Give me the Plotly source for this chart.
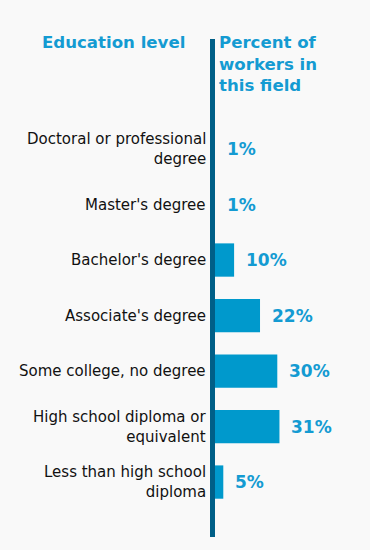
import plotly.graph_objects as go

categories = [
    "Doctoral or professional<br>degree",
    "Master's degree",
    "Bachelor's degree",
    "Associate's degree",
    "Some college, no degree",
    "High school diploma or<br>equivalent",
    "Less than high school<br>diploma",
]
values = [1, 1, 10, 22, 30, 31, 5]
value_labels = ["1%", "1%", "10%", "22%", "30%", "31%", "5%"]

BAR = "#0099cc"
TXT = "#149bd2"
LINE = "#005f87"
BG = "#f9f9f9"
FONT = "DejaVu Sans"

fig = go.Figure()
fig.add_trace(go.Bar(
    x=values, y=categories, orientation="h",
    marker=dict(color=BAR, line=dict(width=0)),
    hoverinfo="skip", width=0.6,
))

annotations = []
for c, v, lab in zip(categories, values, value_labels):
    annotations.append(dict(
        x=v, y=c, xref="x", yref="y", text=lab, showarrow=False,
        xanchor="left", yanchor="middle", xshift=10,
        font=dict(family=FONT, size=17, color=TXT, weight="bold"),
    ))
    annotations.append(dict(
        x=0, y=c, xref="x", yref="y", text=c, showarrow=False,
        xanchor="right", yanchor="middle", xshift=-5, align="right",
        font=dict(family=FONT, size=15, color="#111111"),
    ))

annotations.append(dict(
    x=0, y=1.016, xref="x", yref="paper", text="Education level",
    showarrow=False, xanchor="right", yanchor="top", xshift=-26,
    font=dict(family=FONT, size=16.6, color=TXT, weight="bold"),
))
annotations.append(dict(
    x=0, y=1.016, xref="x", yref="paper",
    text="Percent of<br>workers in<br>this field",
    showarrow=False, xanchor="left", yanchor="top", xshift=4, align="left",
    font=dict(family=FONT, size=16.6, color=TXT, weight="bold"),
))

fig.update_layout(
    width=370, height=550,
    margin=dict(l=200, r=0, t=39, b=13),
    paper_bgcolor=BG, plot_bgcolor=BG,
    showlegend=False,
    xaxis=dict(range=[-5.787, 72.92], visible=False, fixedrange=True),
    yaxis=dict(range=[6.99, -1.982], visible=False, fixedrange=True),
    annotations=annotations,
    shapes=[dict(type="line", xref="x", yref="paper", x0=0, x1=0, y0=0, y1=1,
                 line=dict(color=LINE, width=5), layer="above")],
)

fig.write_html(
    "out.html",
    config={"displayModeBar": False},
    post_script="document.body.style.margin='0';document.body.style.overflow='hidden';",
)
